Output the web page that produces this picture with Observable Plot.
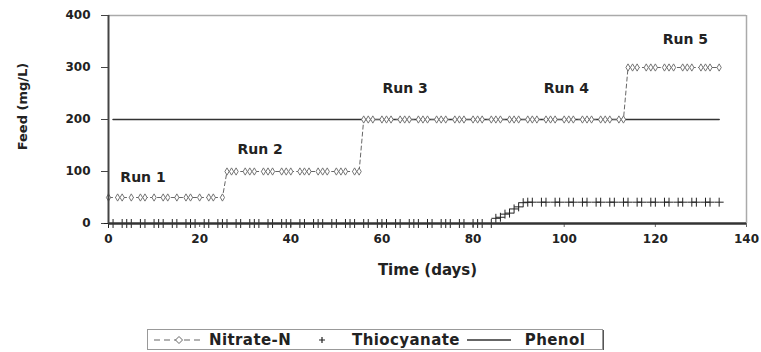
<!DOCTYPE html>
<html>
<head>
<meta charset="utf-8">
<script src="https://cdn.jsdelivr.net/npm/d3@7"></script>
<script src="https://cdn.jsdelivr.net/npm/@observablehq/plot@0.6"></script>
<style>
  body { margin: 0; background: #fff; font-family: "DejaVu Sans", sans-serif; }
  #chart { width: 761px; }
  #legend {
    margin-left: 147px; margin-top: 19px; width: 454px; height: 19px;
    border: 1px solid #999; box-shadow: 1px 1px 0 #555;
    display: flex; align-items: center; font-weight: bold; font-size: 15px; letter-spacing: 0.4px; color: #222;
    box-sizing: content-box;
  }
  #legend svg { display: block; }
</style>
</head>
<body>
<div id="chart"></div>
<div id="legend"></div>
<script>
// ---- data ----
const xTicks = [0, 20, 40, 60, 80, 100, 120, 140];
const yTicks = [0, 100, 200, 300, 400];

const nitrateDay = [0,2,3,5,7,8,10,12,13,15,17,18,20,22,23,25,
  26,27,28,30,31,32,34,35,36,38,39,40,42,43,44,46,47,48,50,51,52,54,55,
  56,57,58,60,61,62,64,65,66,68,69,70,72,73,74,76,77,78,80,81,82,84,85,86,88,89,90,92,93,94,96,97,98,100,101,102,104,105,106,108,109,110,112,113,
  114,115,116,118,119,120,122,123,124,126,127,128,130,131,132,134];
const nitrateFeed = [50,50,50,50,50,50,50,50,50,50,50,50,50,50,50,50,
  100,100,100,100,100,100,100,100,100,100,100,100,100,100,100,100,100,100,100,100,100,100,100,
  200,200,200,200,200,200,200,200,200,200,200,200,200,200,200,200,200,200,200,200,200,200,200,200,200,200,200,200,200,200,200,200,200,200,200,200,200,200,200,200,200,200,200,200,
  300,300,300,300,300,300,300,300,300,300,300,300,300,300,300,300];

const thioDay = [0,1,3,4,5,7,8,10,11,12,14,15,17,18,19,21,22,24,25,26,28,29,31,32,33,35,36,38,39,40,
  42,43,45,46,47,49,50,52,53,54,56,57,59,60,61,63,64,66,67,68,70,71,73,74,75,77,78,80,81,82,84,
  85,86,87,88,89,90,91,
  92,93,95,96,98,99,101,102,104,105,107,108,110,111,113,114,116,117,119,120,122,123,125,126,128,129,131,132,134];
const thioFeed = [0,0,0,0,0,0,0,0,0,0,0,0,0,0,0,0,0,0,0,0,0,0,0,0,0,0,0,0,0,0,
  0,0,0,0,0,0,0,0,0,0,0,0,0,0,0,0,0,0,0,0,0,0,0,0,0,0,0,0,0,0,0,
  10,12,18,20,28,32,40,
  41,41,41,41,41,41,41,41,41,41,41,41,41,41,41,41,41,41,41,41,41,41,41,41,41,41,41,41,41];

const phenolDay = [1, 134];
const phenolFeed = [200, 200];

const runLabels = ["Run 1", "Run 2", "Run 3", "Run 4", "Run 5"];
const runLabelDay = [2.6, 28.3, 60.1, 95.5, 121.6];
const runLabelFeed = [88, 142, 260, 260, 354];

// ---- tables ----
const nitrate = nitrateDay.map((d, i) => ({day: d, feed: nitrateFeed[i]}));
const thio = thioDay.map((d, i) => ({day: d, feed: thioFeed[i]}));
const phenol = phenolDay.map((d, i) => ({day: d, feed: phenolFeed[i]}));
const runs = runLabels.map((t, i) => ({text: t, day: runLabelDay[i], feed: runLabelFeed[i]}));

const chart = Plot.plot({
  width: 761,
  height: 310,
  marginLeft: 108,
  marginRight: 15,
  marginTop: 15,
  marginBottom: 87,
  style: {fontFamily: "DejaVu Sans", fontWeight: "bold", fontSize: "12px", color: "#222", background: "#fff"},
  x: {domain: [0, 140]},
  y: {domain: [0, 400]},
  marks: [
    Plot.axisX({ticks: xTicks, tickSize: 4, tickPadding: 7, label: null, stroke: "#666"}),
    Plot.axisY({ticks: yTicks, tickSize: 7, tickPadding: 11, label: null, stroke: "#444"}),
    Plot.ruleY([400], {stroke: "#aaa", strokeWidth: 1.5}),
    Plot.ruleX([140], {stroke: "#aaa", strokeWidth: 1.5}),
    Plot.line(phenol, {x: "day", y: "feed", stroke: "#333", strokeWidth: 1.6}),
    Plot.line(nitrate, {x: "day", y: "feed", stroke: "#666", strokeWidth: 1, strokeDasharray: "4,3"}),
    Plot.dot(nitrate, {x: "day", y: "feed", symbol: "diamond", r: 2.2, stroke: "#666", fill: "#fff", strokeWidth: 0.9}),
    Plot.dot(thio, {x: "day", y: "feed", symbol: "plus", r: 3, stroke: "#222", strokeWidth: 1}),
    Plot.ruleY([0], {stroke: "#333", strokeWidth: 2.5}),
    Plot.ruleX([0], {stroke: "#444", strokeWidth: 2}),
    Plot.text(runs, {x: "day", y: "feed", text: "text", textAnchor: "start", fontSize: 14, fontWeight: "bold", fill: "#222", letterSpacing: 0.8}),
    Plot.text(["Time (days)"], {frameAnchor: "bottom", lineAnchor: "middle", dy: 47, fontSize: 15, fontWeight: "bold", fill: "#222"}),
    Plot.text(["Feed (mg/L)"], {frameAnchor: "left", textAnchor: "middle", lineAnchor: "middle", dx: -86, dy: -13, rotate: -90, fontSize: 13, fontWeight: "bold", fill: "#222"})
  ]
});
document.getElementById("chart").appendChild(chart);

// ---- legend ----
const legend = document.getElementById("legend");
legend.innerHTML = `
  <span style="width:5px"></span>
  <svg width="52" height="12"><line x1="1" y1="6" x2="51" y2="6" stroke="#666" stroke-dasharray="6,4" stroke-width="1.2"/>
    <path d="M26,2.5 L29.5,6 L26,9.5 L22.5,6 Z" fill="#fff" stroke="#666" stroke-width="1"/></svg>
  <span style="margin-left:4px">Nitrate-N</span>
  <svg width="10" height="12" style="margin-left:26px"><path d="M5,3 V9 M2,6 H8" stroke="#222" stroke-width="1.2"/></svg>
  <span style="margin-left:25px">Thiocyanate</span>
  <svg width="44" height="12" style="margin-left:7px"><line x1="0" y1="6" x2="44" y2="6" stroke="#333" stroke-width="1.4"/></svg>
  <span style="margin-left:14px">Phenol</span>`;
</script>
</body>
</html>
